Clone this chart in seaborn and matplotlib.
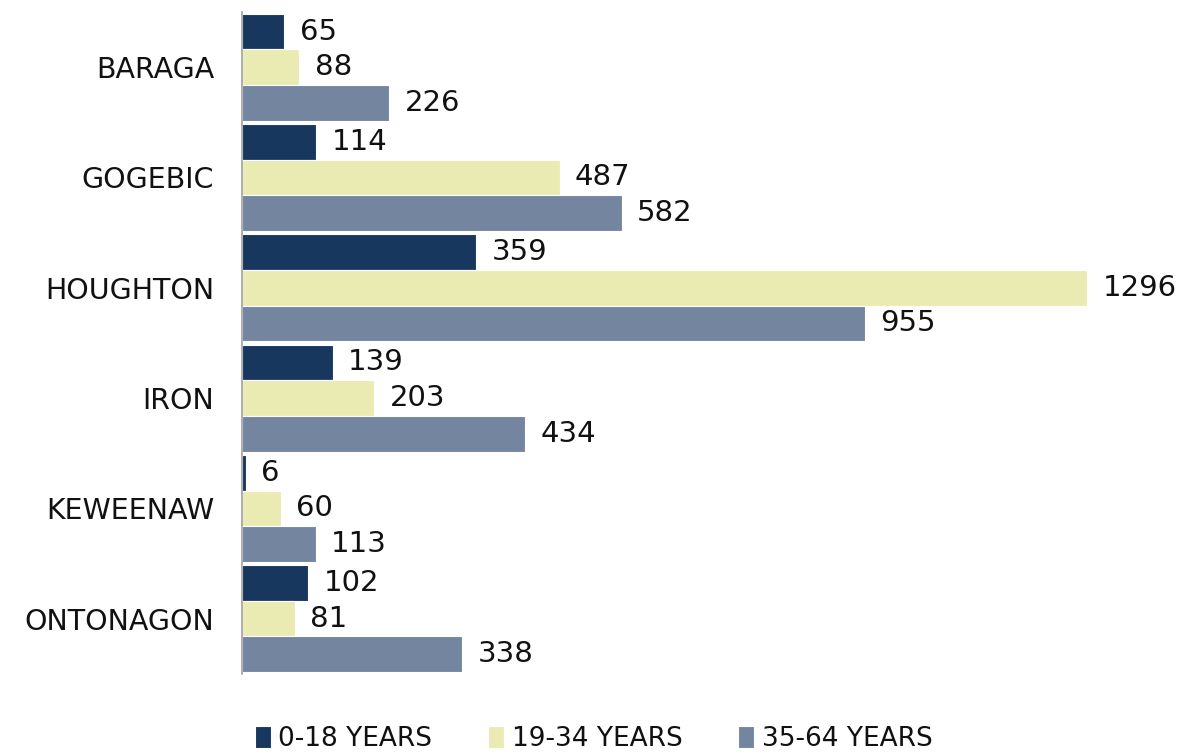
import matplotlib
matplotlib.use("Agg")
import matplotlib.pyplot as plt
import seaborn as sns
import pandas as pd

counties = ["BARAGA", "GOGEBIC", "HOUGHTON", "IRON", "KEWEENAW", "ONTONAGON"]
series = ["0-18 YEARS", "19-34 YEARS", "35-64 YEARS"]
age_0_18 = [65, 114, 359, 139, 6, 102]
age_19_34 = [88, 487, 1296, 203, 60, 81]
age_35_64 = [226, 582, 955, 434, 113, 338]
colors = ["#17375E", "#EAEBB3", "#74869F"]

rows = []
for s, vals in zip(series, [age_0_18, age_19_34, age_35_64]):
    for c, v in zip(counties, vals):
        rows.append({"county": c, "group": s, "value": v})
df = pd.DataFrame(rows)

sns.set_theme(style="white")
plt.rcParams["font.family"] = ["DejaVu Sans"]

fig = plt.figure(figsize=(11.92, 7.52), dpi=100)
ax = fig.add_axes([0.203, 0.104, 0.766, 0.880])

sns.barplot(data=df, y="county", x="value", hue="group", order=counties,
            hue_order=series, palette=colors, saturation=1, orient="h", width=0.97,
            edgecolor="white", linewidth=0.8, ax=ax, errorbar=None)

for cont in ax.containers:
    ax.bar_label(cont, labels=[f"{int(v)}" for v in cont.datavalues],
                 padding=11, fontsize=21, color="#111111")

ax.set_xlim(0, 1400)
ax.set_ylim(5.5, -0.5)
ax.set_xlabel("")
ax.set_ylabel("")
ax.set_xticks([])
ax.tick_params(axis="y", length=0, pad=20, labelsize=20.5, labelcolor="#111111")
for sp in ["top", "right", "bottom"]:
    ax.spines[sp].set_visible(False)
ax.spines["left"].set_color("#A0A0A0")
ax.spines["left"].set_linewidth(1.2)

leg = ax.legend(loc="center", bbox_to_anchor=(0.385, -0.098), ncol=3,
                frameon=False, fontsize=19, handlelength=0.6, handleheight=0.9,
                handletextpad=0.3, columnspacing=2.1)
for t in leg.get_texts():
    t.set_color("#111111")

fig.savefig("out.png", dpi=100)
